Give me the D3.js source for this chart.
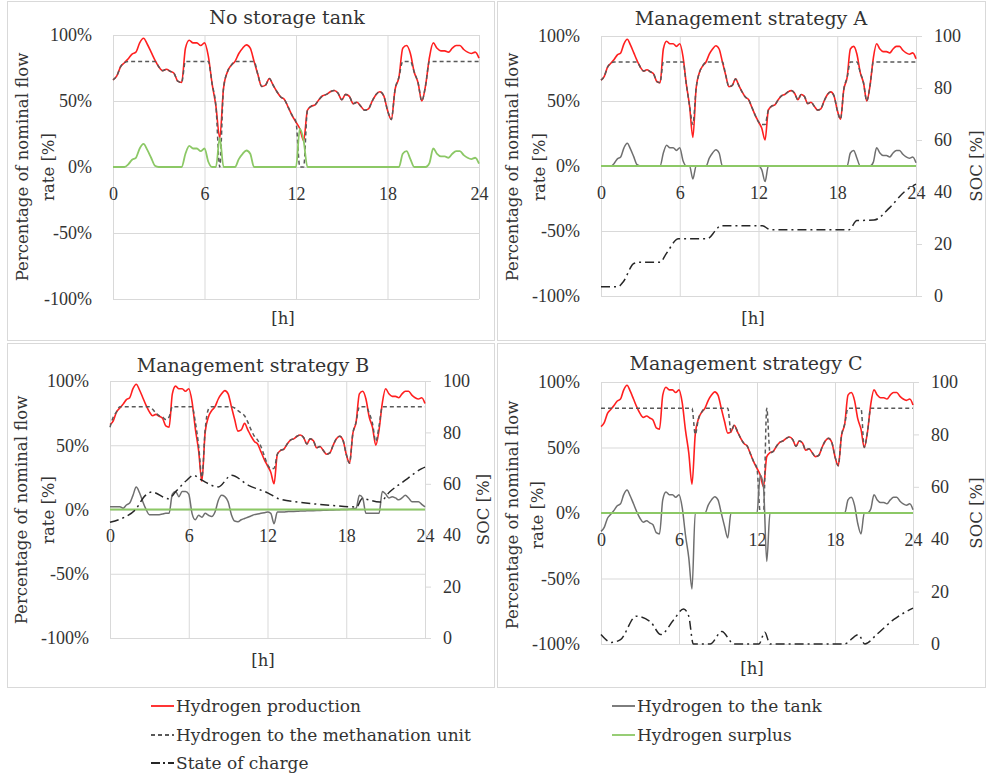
<!DOCTYPE html>
<html>
<head>
<meta charset="utf-8">
<script src="https://cdn.jsdelivr.net/npm/d3@7"></script>
<style>
  body { margin: 0; background: #fff; }
  .tick text { font-family: "Liberation Serif", serif; font-size: 18px; fill: #333; }
  .word { font-family: "DejaVu Serif", serif; fill: #333; }
</style>
</head>
<body>
<div id="chart"></div>
<script>
// time grid of the simulated day, every 15 minutes
var hours = d3.range(0, 24.001, 0.25);
var hourTicks = [0, 6, 12, 18, 24];
var pctTicks = [-100, -50, 0, 50, 100];
var socTicks = [0, 20, 40, 60, 80, 100];

// hydrogen production, % of nominal flow (same day in every panel)
var production = [
  66, 69, 76, 79,   82, 85.5, 87, 94,   97.5, 93, 87, 81,   76, 73, 74, 72.5,
  71, 65, 64, 90,   96, 94, 94, 92,     94, 84, 63, 46,     22, 60, 72, 77,
  80, 86, 90, 92.5, 90, 80, 70, 61,     62, 67, 62, 57,     53, 51, 45, 39,
  34, 29, 20, 43,   46, 47, 51, 54,     55, 57, 58, 56,     51, 55, 53.5, 48,
  49, 46, 43, 44,   50, 55, 57, 54,     43, 36, 59, 68,     90, 92, 86, 72,
  64, 50, 62, 83,   94, 90, 88, 88,     87, 90, 92, 92,     89, 87, 86, 87,
  82.5];

// no storage tank
var methNoTank = [
  66, 69, 76, 79,   80, 80, 80, 80,     80, 80, 80, 80,     76, 73, 74, 72.5,
  71, 65, 64, 80,   80, 80, 80, 80,     80, 80, 63, 46,     0, 60, 72, 77,
  80, 80, 80, 80,   80, 80, 70, 61,     62, 67, 62, 57,     53, 51, 45, 39,
  34, 0, 0, 43,     46, 47, 51, 54,     55, 57, 58, 56,     51, 55, 53.5, 48,
  49, 46, 43, 44,   50, 55, 57, 54,     43, 36, 59, 68,     80, 80, 80, 72,
  64, 50, 62, 80,   80, 80, 80, 80,     80, 80, 80, 80,     80, 80, 80, 80,
  80];
var surplusNoTank = [
  0, 0, 0, 0,       2, 5.5, 7, 14,      17.5, 13, 7, 1,     0, 0, 0, 0,
  0, 0, 0, 10,      16, 14, 14, 12,     14, 4, 0, 0,        22, 0, 0, 0,
  0, 6, 10, 12.5,   10, 0, 0, 0,        0, 0, 0, 0,         0, 0, 0, 0,
  0, 29, 20, 0,     0, 0, 0, 0,         0, 0, 0, 0,         0, 0, 0, 0,
  0, 0, 0, 0,       0, 0, 0, 0,         0, 0, 0, 0,         10, 12, 6, 0,
  0, 0, 0, 3,       14, 10, 8, 8,       7, 10, 12, 12,      9, 7, 6, 7,
  2.5];

// management strategy A
var methA = [
  66, 69, 76, 79,   80, 80, 80, 80,     80, 80, 80, 80,     76, 73, 74, 72.5,
  71, 65, 64, 80,   80, 80, 80, 80,     80, 80, 63, 46,     32, 60, 72, 77,
  80, 80, 80, 80,   80, 80, 70, 61,     62, 67, 62, 57,     53, 51, 45, 39,
  34, 32, 32, 43,   46, 47, 51, 54,     55, 57, 58, 56,     51, 55, 53.5, 48,
  49, 46, 43, 44,   50, 55, 57, 54,     43, 36, 59, 68,     80, 80, 80, 72,
  64, 50, 62, 80,   80, 80, 80, 80,     80, 80, 80, 80,     80, 80, 80, 80,
  80];
var tankA = [
  0, 0, 0, 0,       2, 5.5, 7, 14,      17.5, 13, 7, 1,     0, 0, 0, 0,
  0, 0, 0, 10,      16, 14, 14, 12,     14, 4, 0, 0,        -10, 0, 0, 0,
  0, 6, 10, 12.5,   10, 0, 0, 0,        0, 0, 0, 0,         0, 0, 0, 0,
  0, -3, -12, 0,    0, 0, 0, 0,         0, 0, 0, 0,         0, 0, 0, 0,
  0, 0, 0, 0,       0, 0, 0, 0,         0, 0, 0, 0,         10, 12, 6, 0,
  0, 0, 0, 3,       14, 10, 8, 8,       7, 10, 12, 12,      9, 7, 6, 7,
  2.5];
var socA = [[0, 3.6], [1.3, 3.6], [1.7, 5.5], [2.5, 12.5], [3, 13], [4.5, 13], [5, 16.5],
  [5.9, 22], [8.1, 22], [8.7, 25], [9.1, 27], [12.3, 27], [12.9, 25.5], [18.9, 25.5],
  [19.5, 29], [20.8, 29.2], [22, 34], [23.1, 40], [24, 43]];

// management strategy B
var methB = [
  64, 72, 76, 80,   80, 80, 80, 80,     80, 80, 80, 80,     80, 78, 75, 73,
  72, 70, 72, 80,   80, 80, 80, 80,     80, 80, 68, 50,     25, 62, 78, 80,
  80, 80, 80, 80,   80, 80, 79, 77,     75, 73, 68, 62,     57, 54, 49, 42,
  35, 32, 32, 43,   46, 47, 51, 54,     55, 57, 58, 56,     51, 55, 53.5, 48,
  49, 46, 43, 44,   50, 55, 57, 54,     43, 36, 59, 68,     80, 80, 80, 75,
  67, 53, 65, 80,   80, 80, 80, 80,     80, 80, 80, 80,     80, 80, 80, 80,
  80];
var tankB = [
  2.2, 2.2, 2.2, 2.2, 1, 3.5, 5, 11,    17.5, 13, 6, 0,     -4, -4, -4, -4,
  -3.5, -3, -3, 12,  14, 10, 14, 14,    12, -3, -8, -4.5,   -6, -3, -4.5, -5.5,
  -2, 7, 11, 10,     6, -4, -9, -9.5,   -8, -7, -6, -5,     -4, -3.5, -3, -2.5,
  -2, -3, -11, -2,   -2, -2, -1.7, -1.5, -1.5, -1.4, -1.2, -1.2, -1, -1, -0.9, -0.8,
  -0.7, -0.6, -0.5, -0.4, -0.3, -0.2, -0.1, 0, 0, 0.2, 0.5, 1,  11, 9, -3, -3,
  -3, -3, -3, 14,    12, 9, 10, 9,      7.5, 9, 11, 9,      6, 6, 6, 4,
  2];
var socB = [[0, 45], [1.1, 47], [1.9, 49.7], [2.7, 55.5], [3.2, 56.8], [4.45, 54.2],
  [5.1, 57.5], [5.85, 61.4], [6.35, 63.3], [7, 61.4], [8.25, 58.8], [9.25, 63.3],
  [10.55, 59.4], [12.05, 56.4], [12.85, 54.2], [14.35, 52.9], [16.9, 51.6], [18.8, 51],
  [19.2, 54.2], [20.55, 52.9], [21.3, 56.8], [22.5, 61.4], [23.75, 65.9], [24, 66.5]];

// management strategy C
var methC = [
  80, 80, 80, 80,   80, 80, 80, 80,     80, 80, 80, 80,     80, 80, 80, 80,
  80, 80, 80, 80,   80, 80, 80, 80,     80, 80, 80, 80,     80, 60, 72, 77,
  80, 80, 80, 80,   80, 80, 80, 80,     62, 67, 62, 57,     53, 51, 45, 39,
  34, 0, 0, 80,     46, 47, 51, 54,     55, 57, 58, 56,     51, 55, 53.5, 48,
  49, 46, 43, 44,   50, 55, 57, 54,     43, 36, 59, 68,     80, 80, 80, 80,
  80, 50, 62, 80,   80, 80, 80, 80,     80, 80, 80, 80,     80, 80, 80, 80,
  80];
var tankC = [
  -14, -11, -4, -1, 2, 5.5, 7, 14,      17.5, 13, 7, 1,     -4, -7, -6, -7.5,
  -9, -15, -16, 10, 16, 14, 14, 12,     14, 4, -17, -34,    -58, 0, 0, 0,
  0, 6, 10, 12.5,   10, 0, -10, -19,    0, 0, 0, 0,         0, 0, 0, 0,
  0, 29, 20, -37,   0, 0, 0, 0,         0, 0, 0, 0,         0, 0, 0, 0,
  0, 0, 0, 0,       0, 0, 0, 0,         0, 0, 0, 0,         10, 12, 6, -8,
  -16, 0, 0, 3,     14, 10, 8, 8,       7, 10, 12, 12,      9, 7, 6, 7,
  2.5];
var socC = [[0, 3.6], [0.8, 0.6], [1.5, 1.7], [2.7, 10.6], [3.8, 8.5], [4.6, 3.6],
  [5.6, 9.3], [6.35, 13.4], [6.75, 10.6], [7.1, 0], [8.4, 0], [9.3, 4.8], [10, 0.8],
  [10.2, 0], [12.15, 0], [12.6, 4.5], [13, 0], [18.7, 0], [19.8, 3.6], [20.3, 0],
  [21.2, 3.6], [22.5, 9.3], [24, 13.7]];

// surplus is zero whenever a tank is present
var surplusNone = [[0, 0], [24, 0]];

var legendItems = ["Hydrogen production", "Hydrogen to the methanation unit", "State of charge",
  "Hydrogen to the tank", "Hydrogen surplus"];

var gridColor = "#d9d9d9";
var colors = { prod: "#ff1f1f", meth: "#595959", tank: "#6f6f6f", surplus: "#8cc866", soc: "#262626" };

function onGrid(values) {
  return values.map((v, i) => [hours[i], v]);
}

var svg = d3.select("#chart").append("svg")
  .attr("width", 988)
  .attr("height", 776)
  .style("background", "#fff");

// panel frames
[[7, 1, 494, 340], [497, 1, 985, 340], [7, 343, 494, 687], [497, 343, 985, 687]].forEach(function(b) {
  svg.append("rect")
    .attr("x", b[0] + 0.5).attr("y", b[1] + 0.5)
    .attr("width", b[2] - b[0]).attr("height", b[3] - b[1])
    .attr("fill", "none").attr("stroke", gridColor);
});

var panels = [
  { x0: 113, x1: 479, yt: 35, yb: 299, title: "No storage tank", titleX: 287, titleY: 17,
    yTitleX: [22, 48], yTitleY: 167, hX: 283, hY: 318,
    meth: methNoTank, surplus: onGrid(surplusNoTank) },
  { x0: 601, x1: 916, yt: 36, yb: 296, title: "Management strategy A", titleX: 751, titleY: 18,
    yTitleX: [512, 539], yTitleY: 167, hX: 753, hY: 318, socX: 976,
    meth: methA, tank: tankA, surplus: surplusNone, soc: socA },
  { x0: 110, x1: 425, yt: 381, yb: 638, title: "Management strategy B", titleX: 253, titleY: 365,
    yTitleX: [21, 48], yTitleY: 510, hX: 263, hY: 660, socX: 483,
    meth: methB, tank: tankB, surplus: surplusNone, soc: socB },
  { x0: 601, x1: 913, yt: 382, yb: 644, title: "Management strategy C", titleX: 746, titleY: 363,
    yTitleX: [512, 537], yTitleY: 515, hX: 752, hY: 668, socX: 976,
    meth: methC, tank: tankC, surplus: surplusNone, soc: socC }
];

function drawPanel(p) {
  var x = d3.scaleLinear().domain([0, 24]).range([p.x0, p.x1]);
  var y = d3.scaleLinear().domain([-100, 100]).range([p.yb, p.yt]);
  var ySoc = d3.scaleLinear().domain([0, 100]).range([p.yb, p.yt]);
  var g = svg.append("g");

  // gridlines
  g.append("g")
    .attr("transform", `translate(${p.x0},0)`)
    .call(d3.axisLeft(y).tickValues(pctTicks).tickSize(-(p.x1 - p.x0)).tickFormat(""))
    .call(s => s.select(".domain").remove())
    .selectAll("line").attr("stroke", gridColor);
  g.append("g")
    .attr("transform", `translate(0,${p.yb})`)
    .call(d3.axisBottom(x).tickValues(hourTicks).tickSize(-(p.yb - p.yt)).tickFormat(""))
    .call(s => s.select(".domain").remove())
    .selectAll("line").attr("stroke", gridColor);

  // tick labels
  g.append("g")
    .attr("transform", `translate(${p.x0},0)`)
    .call(d3.axisLeft(y).tickValues(pctTicks).tickSize(0).tickPadding(21).tickFormat(d => d + "%"))
    .call(s => s.select(".domain").remove());
  g.append("g")
    .attr("transform", `translate(0,${y(0)})`)
    .call(d3.axisBottom(x).tickValues(hourTicks).tickSize(0).tickPadding(20))
    .call(s => s.select(".domain").remove());

  if (p.soc) {
    var right = g.append("g")
      .attr("transform", `translate(${p.x1},0)`)
      .call(d3.axisRight(ySoc).tickValues(socTicks).tickSize(6).tickPadding(12));
    right.select(".domain").attr("stroke", gridColor);
    right.selectAll(".tick line").attr("stroke", gridColor);
    g.append("text")
      .attr("class", "word")
      .attr("transform", `translate(${p.socX},${(p.yt + p.yb) / 2}) rotate(-90)`)
      .attr("text-anchor", "middle")
      .attr("dy", "0.35em")
      .style("font-size", "16.5px")
      .text("SOC [%]");
  }

  // titles
  g.append("text")
    .attr("class", "word")
    .attr("x", p.titleX).attr("y", p.titleY)
    .attr("dy", "0.35em")
    .attr("text-anchor", "middle")
    .style("font-size", "19px")
    .text(p.title);
  ["Percentage of nominal flow", "rate [%]"].forEach(function(t, i) {
    g.append("text")
      .attr("class", "word")
      .attr("transform", `translate(${p.yTitleX[i]},${p.yTitleY}) rotate(-90)`)
      .attr("text-anchor", "middle")
      .attr("dy", "0.35em")
      .style("font-size", "16.5px")
      .text(t);
  });
  g.append("text")
    .attr("class", "word")
    .attr("x", p.hX).attr("y", p.hY)
    .attr("dy", "0.35em")
    .attr("text-anchor", "middle")
    .style("font-size", "16.5px")
    .text("[h]");

  // series
  var line = d3.line().x(d => x(d[0])).y(d => y(d[1])).curve(d3.curveMonotoneX);
  var socLine = d3.line().x(d => x(d[0])).y(d => ySoc(d[1])).curve(d3.curveMonotoneX);

  g.append("path").attr("d", line(onGrid(production)))
    .attr("fill", "none").attr("stroke", colors.prod).attr("stroke-width", 1.6);
  g.append("path").attr("d", line(onGrid(p.meth)))
    .attr("fill", "none").attr("stroke", colors.meth).attr("stroke-width", 1.5)
    .attr("stroke-dasharray", "4,3");
  if (p.tank) {
    g.append("path").attr("d", line(onGrid(p.tank)))
      .attr("fill", "none").attr("stroke", colors.tank).attr("stroke-width", 1.5);
  }
  g.append("path").attr("d", line(p.surplus))
    .attr("fill", "none").attr("stroke", colors.surplus).attr("stroke-width", 1.8);
  if (p.soc) {
    g.append("path").attr("d", socLine(p.soc))
      .attr("fill", "none").attr("stroke", colors.soc).attr("stroke-width", 1.5)
      .attr("stroke-dasharray", "9,4,2,4");
  }
}

panels.forEach(drawPanel);

// legend
var legendPos = [[151, 706], [151, 735], [151, 763], [612, 706], [612, 735]];
var legendStyle = [
  { c: colors.prod, dash: null },
  { c: colors.meth, dash: "4,3" },
  { c: colors.soc, dash: "9,3,2,3" },
  { c: colors.tank, dash: null },
  { c: colors.surplus, dash: null }
];
legendItems.forEach(function(name, i) {
  var lg = svg.append("g").attr("transform", `translate(${legendPos[i][0]},${legendPos[i][1]})`);
  lg.append("line")
    .attr("x1", 0).attr("x2", 23).attr("y1", 0).attr("y2", 0)
    .attr("stroke", legendStyle[i].c).attr("stroke-width", 1.8)
    .attr("stroke-dasharray", legendStyle[i].dash);
  lg.append("text")
    .attr("class", "word")
    .attr("x", 25).attr("y", 0)
    .attr("dy", "0.35em")
    .style("font-size", "17px")
    .text(name);
});
</script>
</body>
</html>
